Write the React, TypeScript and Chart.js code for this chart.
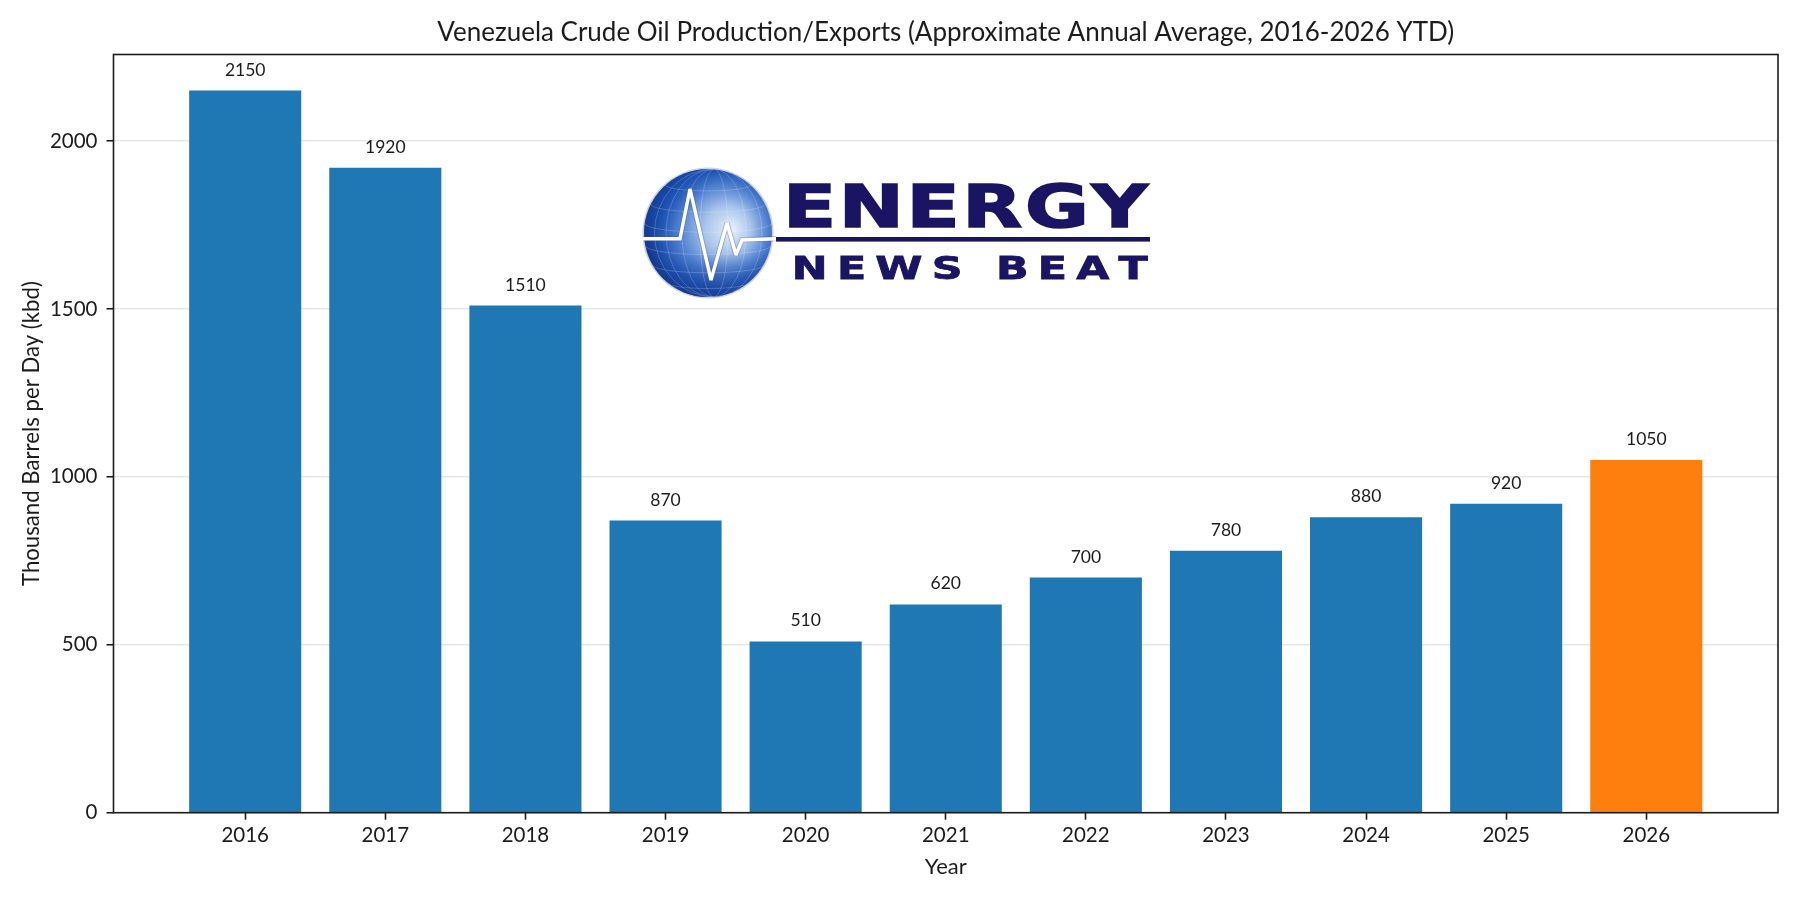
import React, { useEffect, useRef } from "react";
import { Chart, registerables } from "chart.js";

Chart.register(...registerables);

const FONT = "Lato, 'Noto Sans', sans-serif";
const LOGO_FONT = "'DejaVu Sans', 'Liberation Sans', sans-serif";

const TITLE = "Venezuela Crude Oil Production/Exports (Approximate Annual Average, 2016-2026 YTD)";
const X_TITLE = "Year";
const Y_TITLE = "Thousand Barrels per Day (kbd)";

const YEARS = ["2016", "2017", "2018", "2019", "2020", "2021", "2022", "2023", "2024", "2025", "2026"];
const PRODUCTION_KBD = [2150, 1920, 1510, 870, 510, 620, 700, 780, 880, 920, 1050];
const BAR_COLORS = [
  "#1f77b4", "#1f77b4", "#1f77b4", "#1f77b4", "#1f77b4", "#1f77b4",
  "#1f77b4", "#1f77b4", "#1f77b4", "#1f77b4", "#ff7f0e",
];
const Y_TICKS = [0, 500, 1000, 1500, 2000];
const Y_MAX = 2257.5;
const X_MIN = -0.94;
const X_MAX = 10.94;

const LOGO_WORD_TOP = "ENERGY";
const LOGO_WORD_BOTTOM = "NEWS BEAT";

const INK = "#1c1c1c";
const NAVY = "#1a1462";

function drawSpacedWord(
  ctx: CanvasRenderingContext2D,
  word: string,
  left: number,
  baseline: number,
  targetWidth: number,
  gap: number,
  weightStroke: number
) {
  const chars = word.split("");
  const widths = chars.map((c) => ctx.measureText(c).width);
  const total = widths.reduce((a, b) => a + b, 0) + gap * (chars.length - 1);
  const first = ctx.measureText(chars[0]);
  const lastM = ctx.measureText(chars[chars.length - 1]);
  const inkTotal = total + first.actualBoundingBoxLeft - (lastM.width - lastM.actualBoundingBoxRight);
  const sx = targetWidth / inkTotal;
  ctx.save();
  ctx.translate(left, baseline);
  ctx.scale(sx, 1);
  ctx.lineWidth = weightStroke;
  ctx.lineJoin = "miter";
  let x = first.actualBoundingBoxLeft;
  chars.forEach((c, i) => {
    ctx.fillText(c, x, 0);
    if (weightStroke > 0) ctx.strokeText(c, x, 0);
    x += widths[i] + gap;
  });
  ctx.restore();
}

function drawLogo(ctx: CanvasRenderingContext2D) {
  const cx = 708;
  const cy = 233;
  const r = 64;
  ctx.save();

  // globe rim
  ctx.beginPath();
  ctx.arc(cx, cy, r + 1.6, 0, Math.PI * 2);
  ctx.fillStyle = "#cdd4e0";
  ctx.fill();

  // globe body
  const g = ctx.createRadialGradient(cx + 24, cy - 4, 2, cx + 10, cy - 2, r + 8);
  g.addColorStop(0, "#e3ecf9");
  g.addColorStop(0.3, "#a9c5ec");
  g.addColorStop(0.58, "#5686d3");
  g.addColorStop(0.82, "#2257b6");
  g.addColorStop(1, "#14398a");
  ctx.beginPath();
  ctx.arc(cx, cy, r, 0, Math.PI * 2);
  ctx.fillStyle = g;
  ctx.fill();

  ctx.save();
  ctx.clip();
  const lg = ctx.createLinearGradient(cx - r, cy - r, cx + r * 0.3, cy + r * 0.2);
  lg.addColorStop(0, "rgba(18,70,175,0.8)");
  lg.addColorStop(0.55, "rgba(18,70,175,0)");
  ctx.fillStyle = lg;
  ctx.fillRect(cx - r, cy - r, 2 * r, 2 * r);
  const bg = ctx.createLinearGradient(0, cy + r * 0.3, 0, cy + r);
  bg.addColorStop(0, "rgba(20,60,150,0)");
  bg.addColorStop(1, "rgba(20,60,150,0.65)");
  ctx.fillStyle = bg;
  ctx.fillRect(cx - r, cy - r, 2 * r, 2 * r);

  ctx.strokeStyle = "rgba(255,255,255,0.25)";
  ctx.lineWidth = 0.8;
  for (const k of [0.22, 0.5, 0.75, 0.93]) {
    ctx.beginPath();
    ctx.ellipse(cx + 6, cy, r * k, r, 0, 0, Math.PI * 2);
    ctx.stroke();
  }
  for (const f of [-0.75, -0.45, -0.15, 0.2, 0.5, 0.78]) {
    const y = cy + f * r;
    const hw = Math.sqrt(1 - f * f) * r;
    ctx.beginPath();
    ctx.ellipse(cx, y, hw, hw * 0.14, 0, 0, Math.PI);
    ctx.stroke();
  }
  ctx.restore();

  // heartbeat line
  const beat: [number, number][] = [
    [643, 238.7], [680, 238.7], [690, 189], [711, 280], [727, 223], [736, 255], [742, 240], [776, 238.7],
  ];
  const tracePath = () => {
    ctx.beginPath();
    beat.forEach(([x, y], i) => (i === 0 ? ctx.moveTo(x, y) : ctx.lineTo(x, y)));
  };
  ctx.lineJoin = "miter";
  ctx.miterLimit = 3;
  ctx.lineCap = "butt";
  tracePath();
  ctx.strokeStyle = "rgba(70,90,130,0.35)";
  ctx.lineWidth = 5.2;
  ctx.stroke();
  tracePath();
  ctx.strokeStyle = "#ffffff";
  ctx.lineWidth = 3.4;
  ctx.stroke();

  // navy rule
  ctx.fillStyle = NAVY;
  ctx.fillRect(776, 237, 374, 4.6);

  // wordmark
  ctx.strokeStyle = NAVY;
  ctx.textAlign = "left";
  ctx.textBaseline = "alphabetic";
  ctx.font = `bold 59px ${LOGO_FONT}`;
  drawSpacedWord(ctx, LOGO_WORD_TOP, 789.5, 226.5, 360, 2, 1.6);
  ctx.font = `bold 32.5px ${LOGO_FONT}`;
  drawSpacedWord(ctx, LOGO_WORD_BOTTOM, 794.5, 278.5, 353, 7, 0.8);

  ctx.restore();
}

const decorPlugin = {
  id: "decor",
  afterDatasetsDraw(chart: any) {
    const ctx: CanvasRenderingContext2D = chart.ctx;
    const meta = chart.getDatasetMeta(0);
    ctx.save();
    ctx.font = `17.5px ${FONT}`;
    ctx.fillStyle = INK;
    ctx.textAlign = "center";
    ctx.textBaseline = "alphabetic";
    meta.data.forEach((bar: any, i: number) => {
      ctx.fillText(String(PRODUCTION_KBD[i]), bar.x, bar.y - 15);
    });
    ctx.restore();
  },
  afterDraw(chart: any) {
    const ctx: CanvasRenderingContext2D = chart.ctx;
    const a = chart.chartArea;
    ctx.save();
    // frame
    ctx.strokeStyle = INK;
    ctx.lineWidth = 1.6;
    ctx.strokeRect(a.left, a.top, a.right - a.left, a.bottom - a.top);

    const midX = (a.left + a.right) / 2;
    const midY = (a.top + a.bottom) / 2;
    ctx.fillStyle = INK;
    ctx.textAlign = "center";
    ctx.textBaseline = "alphabetic";
    ctx.font = `26px ${FONT}`;
    ctx.fillText(TITLE, midX, 41);
    ctx.font = `22px ${FONT}`;
    ctx.fillText(X_TITLE, midX, 874);
    ctx.save();
    ctx.translate(38.5, midY);
    ctx.rotate(-Math.PI / 2);
    ctx.font = `22.2px ${FONT}`;
    ctx.fillText(Y_TITLE, 0, 0);
    ctx.restore();

    drawLogo(ctx);
    ctx.restore();
  },
};

export default function App() {
  const ref = useRef<HTMLCanvasElement>(null);
  useEffect(() => {
    if (!ref.current) return;
    const chart = new Chart(ref.current, {
      type: "bar",
      data: {
        datasets: [
          {
            data: PRODUCTION_KBD.map((v, i) => ({ x: i, y: v })) as any,
            backgroundColor: BAR_COLORS,
            barPercentage: 0.8,
            categoryPercentage: 1.0,
            borderWidth: 0,
          },
        ],
      },
      options: {
        animation: false,
        responsive: true,
        maintainAspectRatio: false,
        layout: { padding: { top: 54.5, right: 22, left: 0, bottom: 0 } },
        plugins: {
          legend: { display: false },
          tooltip: { enabled: false },
          title: { display: false },
        },
        scales: {
          x: {
            type: "linear",
            min: X_MIN,
            max: X_MAX,
            offset: false,
            afterBuildTicks: (s: any) => {
              s.ticks = YEARS.map((_, i) => ({ value: i }));
            },
            afterFit: (s: any) => {
              s.height = 87.3;
            },
            ticks: {
              autoSkip: false,
              maxRotation: 0,
              padding: 3,
              color: INK,
              font: { family: FONT, size: 20.5 },
              callback: (v: any) => YEARS[v] ?? "",
            },
            grid: {
              offset: false,
              drawOnChartArea: false,
              drawTicks: true,
              tickLength: 7,
              tickWidth: 1.6,
              tickColor: INK,
            },
            border: { display: false },
          },
          y: {
            type: "linear",
            min: 0,
            max: Y_MAX,
            z: 1,
            afterBuildTicks: (s: any) => {
              s.ticks = Y_TICKS.map((v) => ({ value: v }));
            },
            afterFit: (s: any) => {
              s.width = 113.5;
            },
            ticks: {
              padding: 9,
              color: INK,
              font: { family: FONT, size: 20.5 },
              callback: (v: any) => String(v),
            },
            grid: {
              color: "rgba(176,176,176,0.3)",
              lineWidth: 1.5,
              drawTicks: true,
              tickLength: 7,
              tickWidth: 1.6,
              tickColor: INK,
            },
            border: { display: false },
          },
        },
      } as any,
      plugins: [decorPlugin],
    });
    return () => chart.destroy();
  }, []);
  return (
    <div style={{ position: "fixed", left: 0, top: 0, width: 1800, height: 900, background: "#ffffff" }}>
      <canvas ref={ref} />
    </div>
  );
}
